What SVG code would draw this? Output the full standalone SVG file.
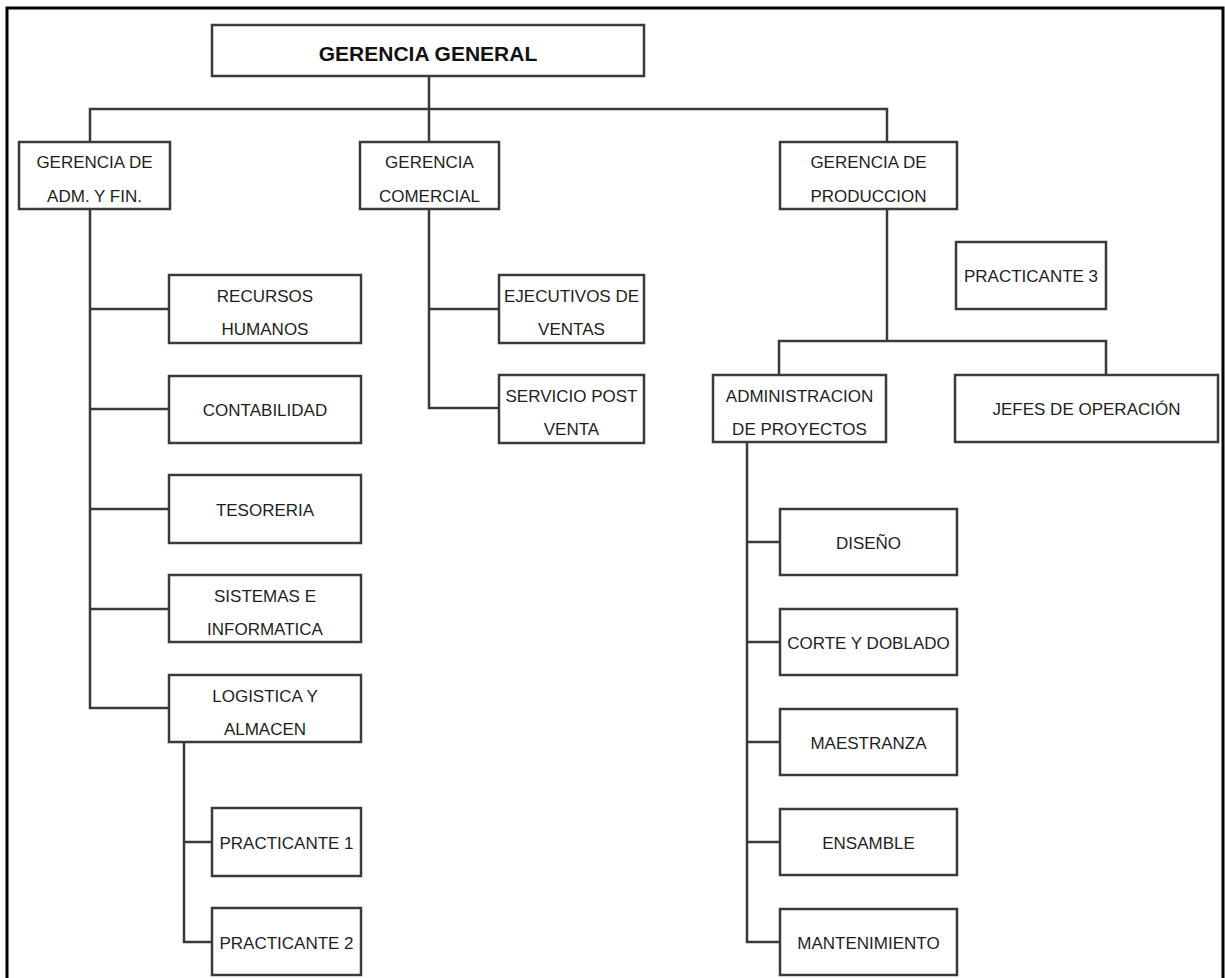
<svg xmlns="http://www.w3.org/2000/svg" width="1225" height="978" viewBox="0 0 1225 978">
<style>
.b{fill:#fff;stroke:#3a3a3a;stroke-width:2.5}
.t{font-family:"Liberation Sans",Arial,sans-serif;font-size:17px;fill:#1e1e1e;text-anchor:middle}
.h{font-family:"Liberation Sans",Arial,sans-serif;font-size:21px;font-weight:bold;fill:#111;text-anchor:middle}
.c{fill:none;stroke:#3a3a3a;stroke-width:2.5}
</style>
<rect x="0" y="0" width="1225" height="978" fill="#fff"/>
<rect x="7" y="8" width="1216" height="990" fill="none" stroke="#000" stroke-width="3"/>
<g id="connectors">
<path class="c" d="M429 76V109M90 142V109H887V142M429 109V142"/>
<path class="c" d="M90 209V708H169M90 309H169M90 409H169M90 509H169M90 609H169"/>
<path class="c" d="M184 742V942H212M184 842H212"/>
<path class="c" d="M429 209V408H499M429 309H499"/>
<path class="c" d="M887 209V341M779 375V341H1106V375"/>
<path class="c" d="M747 442V942H780M747 542H780M747 642H780M747 742H780M747 842H780"/>
</g>
<g id="n-gerencia-general"><rect class="b" x="212" y="25" width="432" height="51"/><text class="h" x="428" y="61">GERENCIA GENERAL</text></g>
<g id="n-adm"><rect class="b" x="19" y="142" width="151" height="67"/><text class="t" x="94.5" y="168">GERENCIA DE</text><text class="t" x="94.5" y="202">ADM. Y FIN.</text></g>
<g id="n-comercial"><rect class="b" x="360" y="142" width="139" height="67"/><text class="t" x="429.5" y="168">GERENCIA</text><text class="t" x="429.5" y="202">COMERCIAL</text></g>
<g id="n-produccion"><rect class="b" x="780" y="142" width="177" height="67"/><text class="t" x="868.5" y="168">GERENCIA DE</text><text class="t" x="868.5" y="202">PRODUCCION</text></g>
<g id="n-rrhh"><rect class="b" x="169" y="275" width="192" height="68"/><text class="t" x="265" y="302">RECURSOS</text><text class="t" x="265" y="335">HUMANOS</text></g>
<g id="n-contabilidad"><rect class="b" x="169" y="376" width="192" height="67"/><text class="t" x="265" y="416">CONTABILIDAD</text></g>
<g id="n-tesoreria"><rect class="b" x="169" y="475" width="192" height="68"/><text class="t" x="265" y="516">TESORERIA</text></g>
<g id="n-sistemas"><rect class="b" x="169" y="575" width="192" height="67"/><text class="t" x="265" y="602">SISTEMAS E</text><text class="t" x="265" y="635">INFORMATICA</text></g>
<g id="n-logistica"><rect class="b" x="169" y="675" width="192" height="67"/><text class="t" x="265" y="702">LOGISTICA Y</text><text class="t" x="265" y="735">ALMACEN</text></g>
<g id="n-practicante1"><rect class="b" x="212" y="808" width="149" height="68"/><text class="t" x="286.5" y="849">PRACTICANTE 1</text></g>
<g id="n-practicante2"><rect class="b" x="212" y="908" width="149" height="67"/><text class="t" x="286.5" y="949">PRACTICANTE 2</text></g>
<g id="n-ejecutivos"><rect class="b" x="499" y="275" width="145" height="68"/><text class="t" x="571.5" y="302">EJECUTIVOS DE</text><text class="t" x="571.5" y="335">VENTAS</text></g>
<g id="n-postventa"><rect class="b" x="499" y="375" width="145" height="68"/><text class="t" x="571.5" y="402">SERVICIO POST</text><text class="t" x="571.5" y="435">VENTA</text></g>
<g id="n-practicante3"><rect class="b" x="956" y="242" width="150" height="67"/><text class="t" x="1031" y="282">PRACTICANTE 3</text></g>
<g id="n-adminproy"><rect class="b" x="713" y="375" width="173" height="67"/><text class="t" x="799.5" y="402">ADMINISTRACION</text><text class="t" x="799.5" y="435">DE PROYECTOS</text></g>
<g id="n-jefes"><rect class="b" x="955" y="375" width="263" height="67"/><text class="t" x="1086.5" y="415">JEFES DE OPERACIÓN</text></g>
<g id="n-diseno"><rect class="b" x="780" y="509" width="177" height="66"/><text class="t" x="868.5" y="549">DISEÑO</text></g>
<g id="n-corte"><rect class="b" x="780" y="609" width="177" height="66"/><text class="t" x="868.5" y="649">CORTE Y DOBLADO</text></g>
<g id="n-maestranza"><rect class="b" x="780" y="709" width="177" height="66"/><text class="t" x="868.5" y="749">MAESTRANZA</text></g>
<g id="n-ensamble"><rect class="b" x="780" y="809" width="177" height="66"/><text class="t" x="868.5" y="849">ENSAMBLE</text></g>
<g id="n-mantenimiento"><rect class="b" x="780" y="909" width="177" height="66"/><text class="t" x="868.5" y="949">MANTENIMIENTO</text></g>
</svg>
